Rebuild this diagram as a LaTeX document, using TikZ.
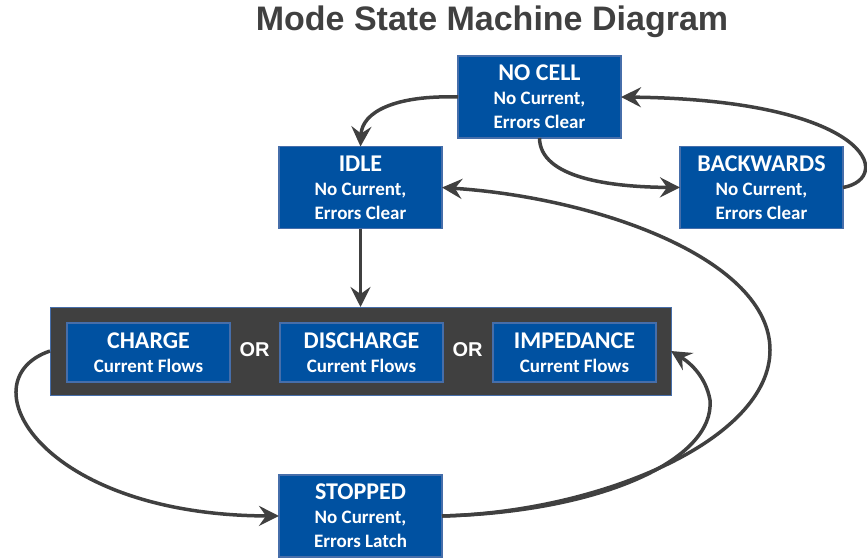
\documentclass[tikz,border=0pt]{standalone}
\usepackage{fontspec}
\setmainfont{Carlito}
\newfontfamily\titlefont{Liberation Sans}
\usetikzlibrary{arrows.meta}

\definecolor{boxblue}{RGB}{0,81,161}
\definecolor{boxedge}{RGB}{70,110,170}
\definecolor{darkbg}{RGB}{64,64,64}
\definecolor{linegray}{RGB}{64,64,64}

\tikzset{
  state/.style={draw=boxedge, line width=1.2pt, fill=boxblue, text=white,
    minimum width=163pt, minimum height=82pt, inner sep=0pt, outer sep=0pt,
    align=center, font=\bfseries\fontsize{19}{24}\selectfont},
  substate/.style={state, minimum height=59pt},
  holder/.style={draw=boxedge, line width=1pt, fill=darkbg,
    minimum width=621pt, minimum height=88pt, inner sep=0pt, outer sep=0pt},
  ortext/.style={text=white, font=\titlefont\bfseries\fontsize{20}{22}\selectfont},
  trans/.style={draw=linegray, line width=3.5pt,
    -{Stealth[length=20pt,width=20pt,inset=7pt]}}
}
\newcommand{\hd}[1]{{\fontsize{24}{26}\selectfont #1}}

\begin{document}
\begin{tikzpicture}[x=1pt,y=-1pt]
    \useasboundingbox (0,0) rectangle (867,559);

    \node[text=linegray, font=\titlefont\bfseries\fontsize{34}{36}\selectfont] (title) at (492,22) {Mode State Machine Diagram};

    \node[state] (nocell) at (539.5,97) {\hd{NO CELL}\\No Current,\\Errors Clear};
    \node[state] (idle) at (360.5,187.5) {\hd{IDLE}\\No Current,\\Errors Clear};
    \node[state] (backwards) at (761.5,187.5) {\hd{BACKWARDS}\\No Current,\\Errors Clear};

    \node[holder] (active) at (360.5,351) {};
    \node[substate] (charge) at (148.5,352.5) {\hd{CHARGE}\\Current Flows};
    \node[ortext] (or1) at (254.5,350) {OR};
    \node[substate] (discharge) at (361.5,352.5) {\hd{DISCHARGE}\\Current Flows};
    \node[ortext] (or2) at (467.5,350) {OR};
    \node[substate] (impedance) at (574.5,352.5) {\hd{IMPEDANCE}\\Current Flows};

    \node[state] (stopped) at (360.5,516) {\hd{STOPPED}\\No Current,\\Errors Latch};

    % transitions
    \draw[trans] (nocell.west) .. controls (395,95) and (362,112) .. (idle.north);
    \draw[trans] (nocell.south) .. controls (540,178) and (610,187) .. (backwards.west);
    \draw[trans] (backwards.east) .. controls (895,178) and (870,100) .. (nocell.east);
    \draw[trans] (idle.south) -- (active.north -| idle.south);
    \draw[trans] (active.west) .. controls (-35,380) and (40,515) .. (stopped.west);
    \draw[trans] (stopped.east) .. controls (600,512) and (770,440) .. (770,350)
        .. controls (770,260) and (600,198) .. (idle.east);
    \draw[trans] (stopped.east) .. controls (600,512) and (715,460) .. (710,400)
        .. controls (706,378) and (692,364) .. (active.east);
\end{tikzpicture}
\end{document}
